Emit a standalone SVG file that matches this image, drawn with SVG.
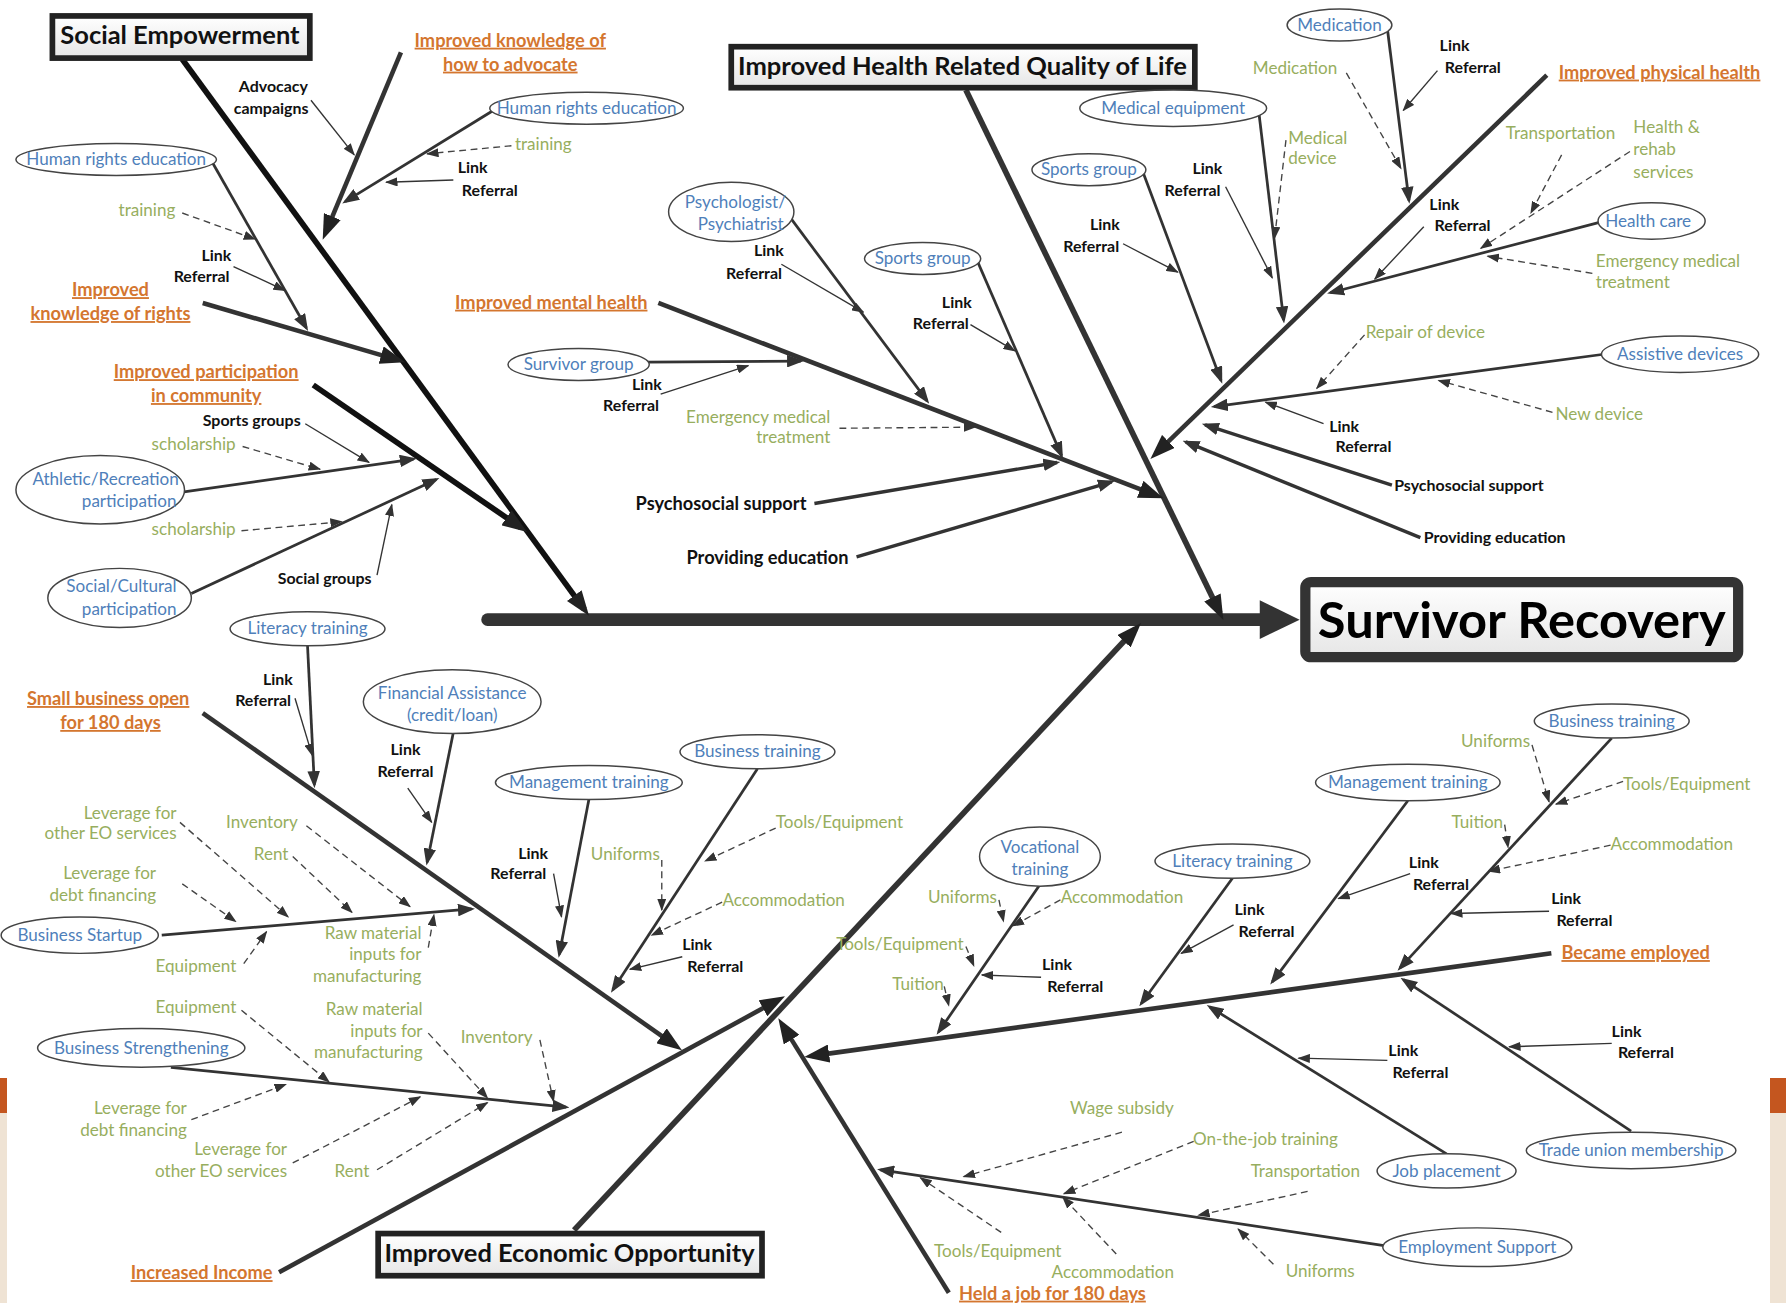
<svg xmlns="http://www.w3.org/2000/svg" width="1786" height="1303" viewBox="0 0 1786 1303">
<defs>
<style>
text{font-family:Lato,"Liberation Sans",sans-serif}
.k{font-size:14px;font-weight:bold;fill:#111}
.g{font-size:15px;fill:#97ae5e}
.b{font-size:15px;fill:#4f7fba}
.o{font-size:16px;font-weight:bold;fill:#d4762f;text-decoration:underline}
.c{font-size:21px;font-weight:bold;fill:#111}
.p{font-size:16px;font-weight:bold;fill:#111}
.mid{text-anchor:middle}
.end{text-anchor:end}
.el{fill:#fff;stroke:#444;stroke-width:1.3}
.box{fill:url(#bg);stroke:#222;stroke-width:5}
.l1{fill:none;stroke:#333;stroke-width:1.2;marker-end:url(#A1)}
.d{fill:none;stroke:#444;stroke-width:1.2;stroke-dasharray:6 4;marker-end:url(#A1)}
.l2{fill:none;stroke:#333;stroke-width:2.4;marker-end:url(#A2)}
.l2w{fill:none;stroke:#333;stroke-width:3;marker-end:url(#A2)}
.l3{fill:none;stroke:#333;stroke-width:4;marker-end:url(#A3)}
.l4{fill:none;stroke:#111;stroke-width:5;marker-end:url(#A3)}
</style>
<linearGradient id="bg" x1="0" y1="0" x2="0" y2="1">
<stop offset="0" stop-color="#ffffff"/><stop offset="1" stop-color="#e6e6e6"/>
</linearGradient>
<marker id="A1" markerUnits="userSpaceOnUse" markerWidth="11" markerHeight="8" refX="10" refY="4" orient="auto"><path d="M0,0 L11,4 L0,8 z" fill="#333"/></marker>
<marker id="A2" markerUnits="userSpaceOnUse" markerWidth="15" markerHeight="11" refX="12" refY="5.5" orient="auto"><path d="M0,0 L15,5.5 L0,11 z" fill="#333"/></marker>
<marker id="A3" markerUnits="userSpaceOnUse" markerWidth="22" markerHeight="16" refX="15" refY="8" orient="auto"><path d="M0,0 L22,8 L0,16 z" fill="#222"/></marker>
</defs>
<rect width="1786" height="1303" fill="#fff"/>
<rect x="0" y="1078" width="7" height="35" fill="#c4561f"/>
<rect x="0" y="1113" width="7" height="190" fill="#efe3d4"/>
<rect x="1770" y="1078" width="16" height="35" fill="#c4561f"/>
<rect x="1770" y="1113" width="16" height="190" fill="#efe3d4"/>
<g transform="scale(1.13903)">
<g id="connectors">
<path d="M428,544 L1110,544" stroke="#333" stroke-width="11" stroke-linecap="round" fill="none"/>
<path d="M1106,527 L1141,544 L1106,561 z" fill="#333"/>
<path class="l4" d="M160,52 L513,535"/>
<path class="l4" d="M275,338 L457,463"/>
<path class="l4" style="stroke:#333" d="M848,79 L1071,538"/>
<path class="l4" style="stroke:#333" d="M504,1080 L997,552"/>
<path class="l3" d="M352,46 L286,204"/>
<path class="l3" d="M178,266 L349,316"/>
<path class="l3" d="M578,266 L1015,435"/>
<path class="l3" d="M1358,66 L1015,398"/>
<path class="l3" d="M245,1117 L683,878"/>
<path class="l3" d="M178,626 L593,918"/>
<path class="l3" d="M833,1135 L687,900"/>
<path class="l3" d="M1362,837 L713,927"/>
<path class="l2" d="M433,97 L303,177"/>
<path class="l2" d="M185,140 L269,288"/>
<path class="l2" d="M160,432 L363,403"/>
<path class="l2" d="M168,521 L383,421"/>
<path class="l2" d="M693,190 L814,352"/>
<path class="l2" d="M858,229 L932,400"/>
<path class="l2" d="M568,318 L703,317"/>
<path class="l2w" d="M715,442 L928,406"/>
<path class="l2w" d="M752,489 L976,423"/>
<path class="l2" d="M1218,25 L1237,176"/>
<path class="l2" d="M1105,97 L1127,281"/>
<path class="l2" d="M1003,150 L1072,334"/>
<path class="l2" d="M1405,195 L1168,257"/>
<path class="l2" d="M1408,311 L1066,357"/>
<path class="l2w" d="M1222,426 L1058,373"/>
<path class="l2w" d="M1247,472 L1041,388"/>
<path class="l2" d="M270,567 L276,689"/>
<path class="l2" d="M398,643 L375,757"/>
<path class="l2" d="M517,702 L491,838"/>
<path class="l2" d="M665,675 L538,869"/>
<path class="l2" d="M142,821 L414,798"/>
<path class="l2" d="M150,937 L497,972"/>
<path class="l2" d="M1415,648 L1229,850"/>
<path class="l2" d="M1236,703 L1117,862"/>
<path class="l2" d="M1082,771 L1002,881"/>
<path class="l2" d="M912,778 L824,906"/>
<path class="l2" d="M1432,993 L1232,860"/>
<path class="l2" d="M1270,1013 L1062,884"/>
<path class="l2" d="M1218,1094 L773,1027"/>
<path class="l1" d="M273,88 L311,136"/>
<path class="l1" d="M398,158 L339,160"/>
<path class="l1" d="M205,234 L250,255"/>
<path class="l1" d="M268,372 L324,406"/>
<path class="l1" d="M331,505 L344,443"/>
<path class="l1" d="M686,232 L758,274"/>
<path class="l1" d="M852,285 L891,308"/>
<path class="l1" d="M580,346 L657,321"/>
<path class="l1" d="M1262,62 L1232,97"/>
<path class="l1" d="M1076,164 L1117,244"/>
<path class="l1" d="M986,214 L1034,239"/>
<path class="l1" d="M1250,199 L1207,245"/>
<path class="l1" d="M1162,372 L1111,353"/>
<path class="l1" d="M259,613 L274,663"/>
<path class="l1" d="M358,692 L379,722"/>
<path class="l1" d="M486,767 L493,805"/>
<path class="l1" d="M599,840 L553,851"/>
<path class="l1" d="M1360,800 L1274,802"/>
<path class="l1" d="M1238,767 L1175,789"/>
<path class="l1" d="M1083,812 L1037,837"/>
<path class="l1" d="M914,858 L862,856"/>
<path class="l1" d="M1415,916 L1325,919"/>
<path class="l1" d="M1218,931 L1140,929"/>
<path class="d" d="M449,128 L375,135"/>
<path class="d" d="M160,187 L224,210"/>
<path class="d" d="M213,392 L281,412"/>
<path class="d" d="M212,466 L300,458"/>
<path class="d" d="M737,376 L856,375"/>
<path class="d" d="M1182,64 L1230,148"/>
<path class="d" d="M1129,123 L1119,209"/>
<path class="d" d="M1371,136 L1344,187"/>
<path class="d" d="M1431,133 L1300,218"/>
<path class="d" d="M1398,240 L1306,225"/>
<path class="d" d="M1198,294 L1156,341"/>
<path class="d" d="M1363,362 L1263,334"/>
<path class="d" d="M158,722 L253,805"/>
<path class="d" d="M269,725 L360,796"/>
<path class="d" d="M257,752 L309,801"/>
<path class="d" d="M160,776 L207,809"/>
<path class="d" d="M214,846 L234,818"/>
<path class="d" d="M376,832 L381,803"/>
<path class="d" d="M581,755 L581,799"/>
<path class="d" d="M681,727 L619,756"/>
<path class="d" d="M634,792 L572,821"/>
<path class="d" d="M212,887 L289,950"/>
<path class="d" d="M376,907 L428,964"/>
<path class="d" d="M474,913 L486,967"/>
<path class="d" d="M168,983 L251,952"/>
<path class="d" d="M257,1021 L369,963"/>
<path class="d" d="M331,1027 L428,968"/>
<path class="d" d="M1345,654 L1360,704"/>
<path class="d" d="M1425,686 L1366,706"/>
<path class="d" d="M1321,724 L1324,744"/>
<path class="d" d="M1414,742 L1307,765"/>
<path class="d" d="M877,790 L881,809"/>
<path class="d" d="M931,790 L889,813"/>
<path class="d" d="M848,831 L855,848"/>
<path class="d" d="M829,866 L833,883"/>
<path class="d" d="M985,994 L846,1033"/>
<path class="d" d="M1048,1002 L934,1048"/>
<path class="d" d="M1148,1046 L1052,1067"/>
<path class="d" d="M1118,1110 L1087,1079"/>
<path class="d" d="M980,1101 L933,1051"/>
<path class="d" d="M879,1082 L808,1034"/>
</g>

<g id="survivor-recovery"><rect x="1146" y="511" width="380" height="66" rx="5" fill="url(#bg)" stroke="#333" stroke-width="9"/><text x="1336" y="560" class="mid" font-size="44" font-weight="bold" fill="#000" textLength="358" lengthAdjust="spacingAndGlyphs">Survivor Recovery</text></g>
<g id="social-empowerment"><rect class="box" x="46" y="14" width="226" height="37"/><text class="c mid" x="158" y="39" textLength="210" lengthAdjust="spacingAndGlyphs">Social Empowerment</text></g>
<g id="hrqol"><rect class="box" x="642" y="41" width="407" height="36"/><text class="c mid" x="845" y="66" textLength="394" lengthAdjust="spacingAndGlyphs">Improved Health Related Quality of Life</text></g>
<g id="economic"><rect class="box" x="332" y="1083" width="337" height="37"/><text class="c mid" x="500" y="1108" textLength="325" lengthAdjust="spacingAndGlyphs">Improved Economic Opportunity</text></g>

<g id="se-advocate"><text class="o mid" x="448" y="41">Improved knowledge of</text><text class="o mid" x="448" y="62">how to advocate</text></g>
<g id="se-advocacy-campaigns"><text class="k mid" x="240" y="81">Advocacy</text><text class="k mid" x="238" y="100">campaigns</text></g>
<g id="se-hre-1"><ellipse class="el" cx="515" cy="95" rx="85" ry="14"/><text class="b mid" x="515" y="100">Human rights education</text></g>
<g id="se-training-1"><text class="g mid" x="477" y="132">training</text></g>
<g id="se-lr-1"><text class="k mid" x="415" y="152">Link</text><text class="k mid" x="430" y="172">Referral</text></g>
<g id="se-hre-2"><ellipse class="el" cx="102" cy="140" rx="88" ry="14"/><text class="b mid" x="102" y="145">Human rights education</text></g>
<g id="se-training-2"><text class="g mid" x="129" y="190">training</text></g>
<g id="se-lr-2"><text class="k mid" x="190" y="229">Link</text><text class="k mid" x="177" y="248">Referral</text></g>
<g id="se-rights"><text class="o mid" x="97" y="260">Improved</text><text class="o mid" x="97" y="281">knowledge of rights</text></g>
<g id="se-participation"><text class="o mid" x="181" y="332">Improved participation</text><text class="o mid" x="181" y="353">in community</text></g>
<g id="se-sports-groups"><text class="k mid" x="221" y="374">Sports groups</text></g>
<g id="se-scholarship-1"><text class="g mid" x="170" y="395">scholarship</text></g>
<g id="se-athletic"><ellipse class="el" cx="88" cy="430" rx="74" ry="30"/><text class="b end" x="157" y="426">Athletic/Recreation</text><text class="b end" x="155" y="445">participation</text></g>
<g id="se-scholarship-2"><text class="g mid" x="170" y="470">scholarship</text></g>
<g id="se-social-cultural"><ellipse class="el" cx="105" cy="525" rx="63" ry="26"/><text class="b end" x="155" y="520">Social/Cultural</text><text class="b end" x="155" y="540">participation</text></g>
<g id="se-social-groups"><text class="k mid" x="285" y="513">Social groups</text></g>

<g id="mh-outcome"><text class="o mid" x="484" y="271">Improved mental health</text></g>
<g id="mh-psych"><ellipse class="el" cx="642" cy="186" rx="55" ry="26"/><text class="b end" x="690" y="183">Psychologist/</text><text class="b end" x="688" y="202">Psychiatrist</text></g>
<g id="mh-lr-1"><text class="k mid" x="675" y="225">Link</text><text class="k mid" x="662" y="245">Referral</text></g>
<g id="mh-sports"><ellipse class="el" cx="810" cy="227" rx="51" ry="14"/><text class="b mid" x="810" y="232">Sports group</text></g>
<g id="mh-lr-2"><text class="k mid" x="840" y="270">Link</text><text class="k mid" x="826" y="289">Referral</text></g>
<g id="mh-survivor"><ellipse class="el" cx="508" cy="320" rx="62" ry="14"/><text class="b mid" x="508" y="325">Survivor group</text></g>
<g id="mh-lr-3"><text class="k mid" x="568" y="342">Link</text><text class="k mid" x="554" y="361">Referral</text></g>
<g id="mh-emergency"><text class="g end" x="729" y="371">Emergency medical</text><text class="g end" x="729" y="389">treatment</text></g>
<g id="mh-psychosocial"><text class="p end" x="708" y="448">Psychosocial support</text></g>
<g id="mh-education"><text class="p end" x="745" y="495">Providing education</text></g>

<g id="ph-medication"><ellipse class="el" cx="1176" cy="22" rx="46" ry="14"/><text class="b mid" x="1176" y="27">Medication</text></g>
<g id="ph-lr-1"><text class="k mid" x="1277" y="45">Link</text><text class="k mid" x="1293" y="64">Referral</text></g>
<g id="ph-outcome"><text class="o mid" x="1457" y="69">Improved physical health</text></g>
<g id="ph-medication-g"><text class="g mid" x="1137" y="65">Medication</text></g>
<g id="ph-medeq"><ellipse class="el" cx="1030" cy="95" rx="82" ry="16"/><text class="b mid" x="1030" y="100">Medical equipment</text></g>
<g id="ph-device"><text class="g" x="1131" y="126">Medical</text><text class="g" x="1131" y="144">device</text></g>
<g id="ph-transport"><text class="g mid" x="1370" y="122">Transportation</text></g>
<g id="ph-rehab"><text class="g" x="1434" y="117">Health &amp;</text><text class="g" x="1434" y="136">rehab</text><text class="g" x="1434" y="156">services</text></g>
<g id="ph-sports"><ellipse class="el" cx="956" cy="149" rx="50" ry="14"/><text class="b mid" x="956" y="154">Sports group</text></g>
<g id="ph-lr-2"><text class="k mid" x="1060" y="153">Link</text><text class="k mid" x="1047" y="172">Referral</text></g>
<g id="ph-lr-3"><text class="k mid" x="970" y="202">Link</text><text class="k mid" x="958" y="221">Referral</text></g>
<g id="ph-lr-4"><text class="k mid" x="1268" y="184">Link</text><text class="k mid" x="1284" y="203">Referral</text></g>
<g id="ph-healthcare"><ellipse class="el" cx="1450" cy="194" rx="47" ry="16"/><text class="b mid" x="1447" y="199">Health care</text></g>
<g id="ph-emergency"><text class="g" x="1401" y="234">Emergency medical</text><text class="g" x="1401" y="253">treatment</text></g>
<g id="ph-repair"><text class="g" x="1199" y="297">Repair of device</text></g>
<g id="ph-assistive"><ellipse class="el" cx="1475" cy="311" rx="69" ry="16"/><text class="b mid" x="1475" y="316">Assistive devices</text></g>
<g id="ph-newdevice"><text class="g mid" x="1404" y="369">New device</text></g>
<g id="ph-lr-5"><text class="k mid" x="1180" y="379">Link</text><text class="k mid" x="1197" y="397">Referral</text></g>
<g id="ph-psychosocial"><text class="k" x="1224" y="431">Psychosocial support</text></g>
<g id="ph-education"><text class="k" x="1250" y="477">Providing education</text></g>

<g id="sb-literacy"><ellipse class="el" cx="270" cy="552" rx="68" ry="15"/><text class="b mid" x="270" y="557">Literacy training</text></g>
<g id="sb-lr-1"><text class="k mid" x="244" y="601">Link</text><text class="k mid" x="231" y="620">Referral</text></g>
<g id="sb-outcome"><text class="o mid" x="95" y="619">Small business open</text><text class="o mid" x="97" y="640">for 180 days</text></g>
<g id="sb-finance"><ellipse class="el" cx="397" cy="616" rx="78" ry="28"/><text class="b mid" x="397" y="614">Financial Assistance</text><text class="b mid" x="397" y="633">(credit/loan)</text></g>
<g id="sb-lr-2"><text class="k mid" x="356" y="663">Link</text><text class="k mid" x="356" y="682">Referral</text></g>
<g id="sb-business-training"><ellipse class="el" cx="665" cy="660" rx="68" ry="15"/><text class="b mid" x="665" y="665">Business training</text></g>
<g id="sb-management"><ellipse class="el" cx="517" cy="687" rx="82" ry="15"/><text class="b mid" x="517" y="692">Management training</text></g>
<g id="sb-leverage-eo-1"><text class="g end" x="155" y="719">Leverage for</text><text class="g end" x="155" y="737">other EO services</text></g>
<g id="sb-inventory-1"><text class="g mid" x="230" y="727">Inventory</text></g>
<g id="sb-tools"><text class="g mid" x="737" y="727">Tools/Equipment</text></g>
<g id="sb-rent-1"><text class="g mid" x="238" y="755">Rent</text></g>
<g id="sb-lr-3"><text class="k mid" x="468" y="754">Link</text><text class="k mid" x="455" y="772">Referral</text></g>
<g id="sb-uniforms"><text class="g mid" x="549" y="755">Uniforms</text></g>
<g id="sb-leverage-debt-1"><text class="g end" x="137" y="772">Leverage for</text><text class="g end" x="137" y="791">debt financing</text></g>
<g id="sb-accommodation"><text class="g mid" x="688" y="795">Accommodation</text></g>
<g id="sb-raw-1"><text class="g end" x="370" y="824">Raw material</text><text class="g end" x="370" y="843">inputs for</text><text class="g end" x="370" y="862">manufacturing</text></g>
<g id="sb-startup"><ellipse class="el" cx="70" cy="821" rx="69" ry="16"/><text class="b mid" x="70" y="826">Business Startup</text></g>
<g id="sb-lr-4"><text class="k mid" x="612" y="834">Link</text><text class="k mid" x="628" y="853">Referral</text></g>
<g id="sb-equipment-1"><text class="g mid" x="172" y="853">Equipment</text></g>
<g id="sb-equipment-2"><text class="g mid" x="172" y="889">Equipment</text></g>
<g id="sb-raw-2"><text class="g end" x="371" y="891">Raw material</text><text class="g end" x="371" y="910">inputs for</text><text class="g end" x="371" y="929">manufacturing</text></g>
<g id="sb-inventory-2"><text class="g mid" x="436" y="916">Inventory</text></g>
<g id="sb-strengthening"><ellipse class="el" cx="124" cy="920" rx="91" ry="17"/><text class="b mid" x="124" y="925">Business Strengthening</text></g>
<g id="sb-leverage-debt-2"><text class="g end" x="164" y="978">Leverage for</text><text class="g end" x="164" y="997">debt financing</text></g>
<g id="sb-leverage-eo-2"><text class="g end" x="252" y="1014">Leverage for</text><text class="g end" x="252" y="1033">other EO services</text></g>
<g id="sb-rent-2"><text class="g mid" x="309" y="1033">Rent</text></g>
<g id="eo-income"><text class="o mid" x="177" y="1123">Increased Income</text></g>

<g id="em-business-training"><ellipse class="el" cx="1415" cy="633" rx="68" ry="15"/><text class="b mid" x="1415" y="638">Business training</text></g>
<g id="em-uniforms-1"><text class="g mid" x="1313" y="656">Uniforms</text></g>
<g id="em-tools-1"><text class="g" x="1425" y="694">Tools/Equipment</text></g>
<g id="em-management"><ellipse class="el" cx="1236" cy="687" rx="81" ry="16"/><text class="b mid" x="1236" y="692">Management training</text></g>
<g id="em-tuition-1"><text class="g mid" x="1297" y="727">Tuition</text></g>
<g id="em-accommodation-1"><text class="g" x="1414" y="746">Accommodation</text></g>
<g id="em-vocational"><ellipse class="el" cx="913" cy="752" rx="53" ry="26"/><text class="b mid" x="913" y="749">Vocational</text><text class="b mid" x="913" y="768">training</text></g>
<g id="em-literacy"><ellipse class="el" cx="1082" cy="756" rx="68" ry="15"/><text class="b mid" x="1082" y="761">Literacy training</text></g>
<g id="em-lr-1"><text class="k mid" x="1250" y="762">Link</text><text class="k mid" x="1265" y="781">Referral</text></g>
<g id="em-uniforms-2"><text class="g mid" x="845" y="793">Uniforms</text></g>
<g id="em-accommodation-2"><text class="g mid" x="985" y="793">Accommodation</text></g>
<g id="em-lr-2"><text class="k mid" x="1375" y="794">Link</text><text class="k mid" x="1391" y="813">Referral</text></g>
<g id="em-lr-3"><text class="k mid" x="1097" y="803">Link</text><text class="k mid" x="1112" y="823">Referral</text></g>
<g id="em-tools-2"><text class="g mid" x="790" y="834">Tools/Equipment</text></g>
<g id="em-outcome"><text class="o mid" x="1436" y="842">Became employed</text></g>
<g id="em-lr-4"><text class="k mid" x="928" y="852">Link</text><text class="k mid" x="944" y="871">Referral</text></g>
<g id="em-tuition-2"><text class="g mid" x="806" y="869">Tuition</text></g>
<g id="em-lr-5"><text class="k mid" x="1428" y="910">Link</text><text class="k mid" x="1445" y="929">Referral</text></g>
<g id="em-lr-6"><text class="k mid" x="1232" y="927">Link</text><text class="k mid" x="1247" y="946">Referral</text></g>
<g id="hj-wage"><text class="g mid" x="985" y="978">Wage subsidy</text></g>
<g id="hj-otj"><text class="g mid" x="1111" y="1005">On-the-job training</text></g>
<g id="em-trade-union"><ellipse class="el" cx="1432" cy="1010" rx="92" ry="16"/><text class="b mid" x="1432" y="1015">Trade union membership</text></g>
<g id="hj-transport"><text class="g mid" x="1146" y="1033">Transportation</text></g>
<g id="em-job-placement"><ellipse class="el" cx="1270" cy="1028" rx="61" ry="15"/><text class="b mid" x="1270" y="1033">Job placement</text></g>
<g id="hj-employment-support"><ellipse class="el" cx="1297" cy="1095" rx="83" ry="17"/><text class="b mid" x="1297" y="1100">Employment Support</text></g>
<g id="hj-tools"><text class="g mid" x="876" y="1104">Tools/Equipment</text></g>
<g id="hj-uniforms"><text class="g mid" x="1159" y="1121">Uniforms</text></g>
<g id="hj-accommodation"><text class="g mid" x="977" y="1122">Accommodation</text></g>
<g id="hj-outcome"><text class="o mid" x="924" y="1141">Held a job for 180 days</text></g>
</g>
</svg>
